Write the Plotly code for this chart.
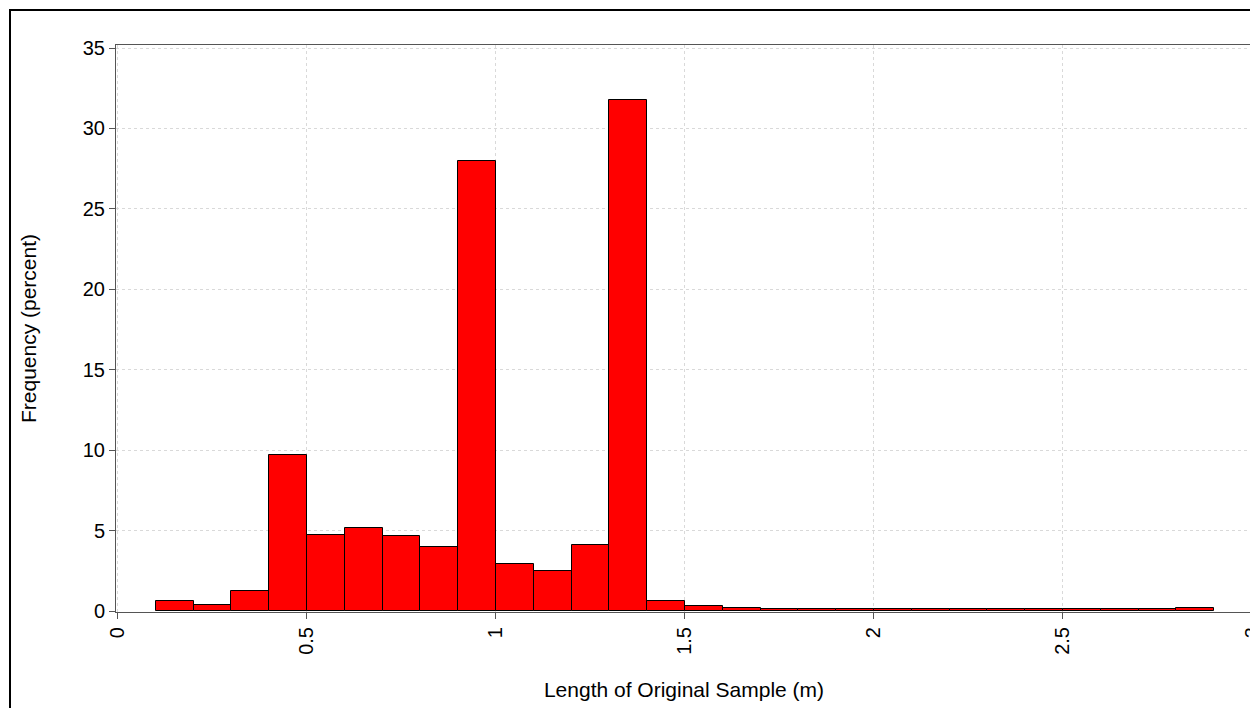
import plotly.graph_objects as go

# Histogram of original sample lengths: bin edges (m) and frequency (%)
bin_left = [0.1, 0.2, 0.3, 0.4, 0.5, 0.6, 0.7, 0.8, 0.9, 1.0,
            1.1, 1.2, 1.3, 1.4, 1.5, 1.6, 1.7, 1.8, 1.9, 2.0,
            2.1, 2.2, 2.3, 2.4, 2.5, 2.6, 2.7, 2.8]
bin_width = 0.1
frequency = [0.62, 0.37, 1.27, 9.72, 4.7, 5.15, 4.65, 3.97, 28.0, 2.93,
             2.47, 4.08, 31.8, 0.64, 0.32, 0.2, 0.13, 0.1, 0.1, 0.13,
             0.1, 0.1, 0.13, 0.1, 0.1, 0.1, 0.1, 0.18]

x_ticks = [0, 0.5, 1, 1.5, 2, 2.5, 3]
x_tick_text = ["0", "0.5", "1", "1.5", "2", "2.5", "3"]
y_ticks = [0, 5, 10, 15, 20, 25, 30, 35]

FONT = "Arial, Liberation Sans, sans-serif"
W, H = 1290, 740
ML, MR, MT, MB = 116, 38, 45, 128

fig = go.Figure(
    go.Bar(
        x=[b + bin_width / 2 for b in bin_left],
        y=frequency,
        width=[bin_width] * len(bin_left),
        marker=dict(color="#ff0000", line=dict(color="#000000", width=1)),
        hoverinfo="x+y",
    )
)

axis_common = dict(
    showline=True,
    linecolor="#555555",
    linewidth=1,
    mirror=True,
    ticks="outside",
    ticklen=6,
    tickcolor="#555555",
    showgrid=True,
    gridcolor="#d9d9d9",
    griddash="dot",
    gridwidth=1,
    zeroline=False,
    tickfont=dict(family=FONT, size=20, color="#000000"),
)

fig.update_xaxes(
    range=[-0.005, 3.0],
    tickvals=x_ticks,
    ticktext=x_tick_text,
    tickangle=-90,
    title=dict(text="Length of Original Sample (m)", standoff=28,
               font=dict(family=FONT, size=21, color="#000000")),
    **axis_common,
)
fig.update_yaxes(
    range=[-0.06, 35.19],
    tickvals=y_ticks,
    title=dict(text="Frequency (percent)", standoff=40,
               font=dict(family=FONT, size=21, color="#000000")),
    **axis_common,
)

# Outer frame around the whole figure, expressed in paper coordinates
pw = W - ML - MR
ph = H - MT - MB
fx0 = (10 - ML) / pw
fx1 = (W - 10 - ML) / pw
fy0 = (10 - MB) / ph
fy1 = 1 + (MT - 10) / ph
fig.add_shape(type="rect", xref="paper", yref="paper",
              x0=fx0, x1=fx1, y0=fy0, y1=fy1,
              line=dict(color="#000000", width=2), layer="below")

fig.update_layout(
    width=W,
    height=H,
    margin=dict(l=ML, r=MR, t=MT, b=MB, autoexpand=False),
    plot_bgcolor="#ffffff",
    paper_bgcolor="#ffffff",
    bargap=0,
    showlegend=False,
    font=dict(family=FONT, size=20, color="#000000"),
)

fig.write_html(
    "out.html",
    post_script="document.body.style.margin='0';"
                "document.body.style.overflow='hidden';"
                "document.documentElement.style.overflow='hidden';",
)
